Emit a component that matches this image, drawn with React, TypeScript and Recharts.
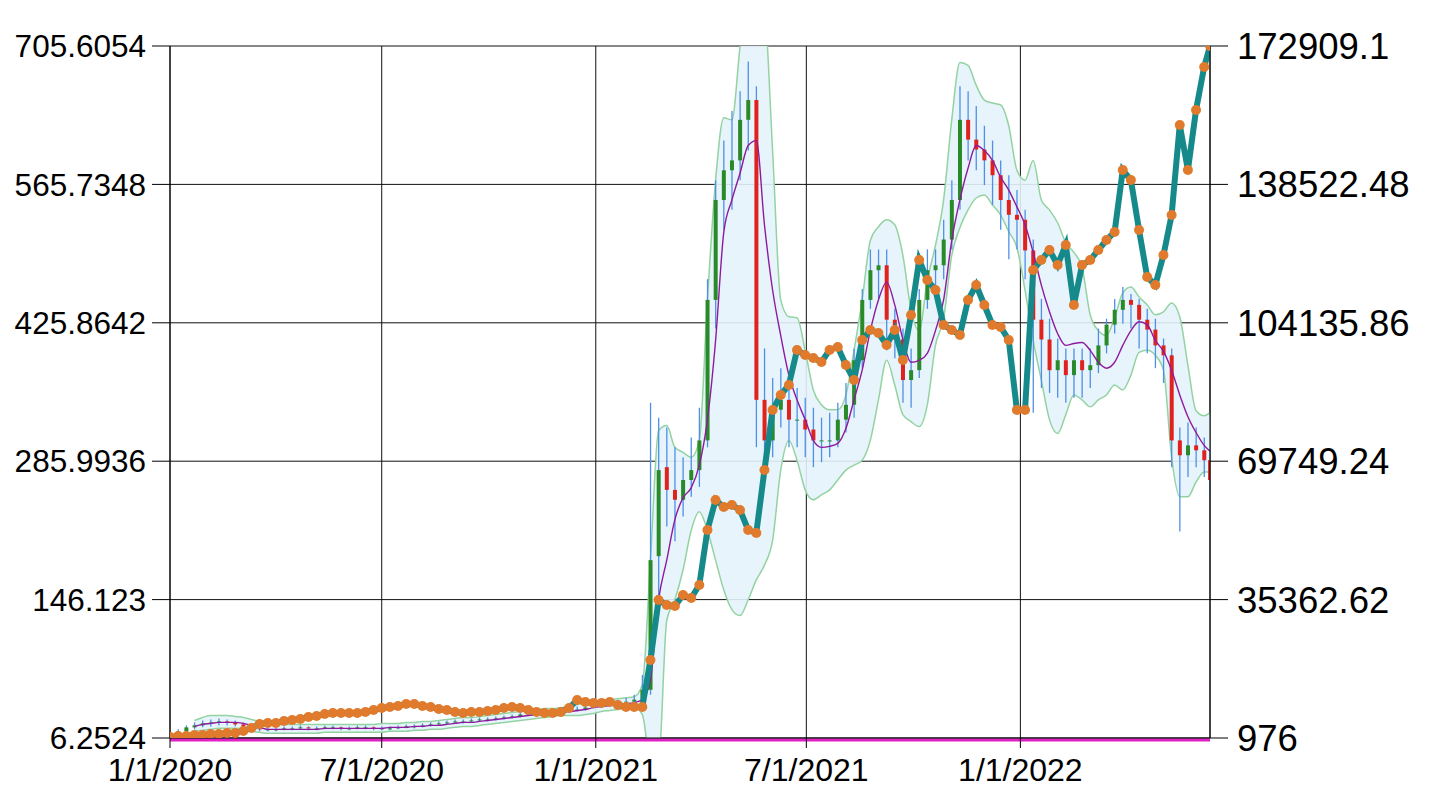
import React from 'react';
import { ComposedChart, Bar, Line, Area, XAxis, YAxis, CartesianGrid, ReferenceLine } from 'recharts';

const START = Date.UTC(2020, 0, 1);
const END = Date.UTC(2022, 5, 13);
const DAY = 86400000;

const xTicks = [Date.UTC(2020, 0, 1), Date.UTC(2020, 6, 1), Date.UTC(2021, 0, 1), Date.UTC(2021, 6, 1), Date.UTC(2022, 0, 1)];
const xTickLabels = ['1/1/2020', '7/1/2020', '1/1/2021', '7/1/2021', '1/1/2022'];
const leftTicks = [6.2524, 146.123, 285.9936, 425.8642, 565.7348, 705.6054];
const leftTickLabels = ['6.2524', '146.123', '285.9936', '425.8642', '565.7348', '705.6054'];
const rightTicks = [976, 35362.62, 69749.24, 104135.86, 138522.48, 172909.1];
const rightTickLabels = ['976', '35362.62', '69749.24', '104135.86', '138522.48', '172909.1'];

// weekly candles: [open, high, low, close] (left axis)
const ohlc: [number, number, number, number][] = [
  [8,12,6,10],[10,15,9,13],[13,19,12,17],[17,22,15,19],[19,24,17,21],[21,25,18,22],[22,26,19,23],[23,25,19,22],[22,24,18,20],[20,22,16,18],
  [18,20,14,16],[16,18,13,15],[15,17,13,15],[15,17,13,15],[15,18,14,16],[16,18,14,16],[16,19,15,17],[17,18,14,16],[16,18,14,16],[16,19,15,17],
  [17,19,15,17],[17,18,14,16],[16,18,14,16],[16,19,15,17],[17,19,15,17],[17,18,14,16],[16,18,14,16],[16,18,14,16],[16,19,15,17],[17,20,16,18],
  [18,20,16,18],[18,21,17,19],[19,22,18,20],[20,23,19,21],[21,24,20,22],[22,25,21,23],[23,25,21,23],[23,26,22,24],[24,27,23,25],[25,27,23,25],
  [25,28,24,26],[26,29,25,27],[27,30,26,28],[28,32,27,30],[30,33,29,31],[31,34,30,32],[32,34,30,32],[32,35,31,33],[33,36,31,33],[33,37,32,34],
  [34,38,33,35],[35,40,34,37],[37,41,36,38],[38,43,37,40],[40,44,38,41],[41,45,39,42],[42,47,40,43],[43,50,41,45],[45,70,43,55],[55,345,50,186],
  [190,330,150,277],[280,320,220,257],[257,300,205,247],[247,290,230,267],[267,310,250,277],[277,340,260,307],[307,470,300,449],[449,570,420,550],[550,610,520,580],[580,640,540,590],
  [590,660,570,631],[631,690,600,651],[651,665,300,348],[348,400,270,307],[307,370,290,338],[338,380,320,348],[348,370,300,328],[328,360,300,328],[328,350,290,318],[318,340,280,307],
  [307,330,285,307],[307,335,290,307],[307,345,300,328],[328,365,315,343],[343,400,330,388],[388,460,380,449],[449,500,440,479],[479,500,450,484],[484,500,400,429],[429,440,390,409],
  [409,420,345,368],[368,400,340,378],[378,460,370,449],[449,500,440,479],[479,500,460,484],[484,530,470,510],[510,570,500,550],[550,665,540,631],[631,660,590,611],[611,645,580,601],
  [601,625,565,590],[590,610,545,575],[575,590,520,550],[550,575,490,535],[535,560,500,530],[530,540,470,499],[499,510,335,429],[429,450,360,409],[409,430,355,378],[378,410,350,388],
  [388,400,345,373],[373,400,350,388],[388,400,350,378],[378,400,360,383],[383,420,375,403],[403,430,395,424],[424,450,415,439],[439,462,425,449],[449,455,420,444],[444,450,400,429],
  [429,440,395,419],[419,430,380,403],[403,410,365,393],[393,400,280,307],[307,320,215,292],[292,325,270,302],[302,320,280,297],[297,310,270,287],[287,295,250,267],
];

// weekly teal line values (right axis)
const tealSeries = [
  1224,1473,1473,1721,1721,1970,1970,2218,2218,2715,
  3461,4454,4703,4703,5200,5448,5697,6194,6442,6939,
  7188,7188,7188,7188,7436,7933,8430,8678,8927,9424,
  9424,8927,8678,8181,7933,7436,7188,7436,7436,7685,
  7933,8430,8678,8430,7933,7436,7188,7188,7436,8430,
  10417,9921,9672,9672,9921,9175,8678,8678,8678,20356,
  35263,34021,33772,36506,35760,38990,52656,60111,58371,58868,
  57626,52656,51911,67563,82471,86198,88682,97379,96136,95391,
  94397,97379,98124,93652,89925,99863,102348,101602,98621,102348,
  94900,106074,119741,114771,112287,103592,102348,101101,109800,113527,
  108559,103592,103095,99863,82471,82471,117257,119741,122224,118497,
  123467,108559,118497,119741,122224,124709,126697,142103,139618,127200,
  115516,113527,120980,130921,153282,142103,157009,167693,172909,
];

// moving average and bands start at the 4th week (left axis)
const maSeries = [
  18,20,21,22,22,22,21,19,17,15,
  15,15,15,15,15,15,16,16,16,16,
  16,16,16,16,17,17,17,18,18,19,
  19,20,21,22,22,23,24,25,26,27,
  28,29,30,31,32,33,33,34,35,37,
  38,39,40,41,42,45,65,146,186,227,
  249,259,282,328,408,517,550,577,605,610,
  525,459,413,373,348,328,307,300,301,304,
  319,348,378,418,449,467,444,409,386,388,
  395,418,449,509,550,582,605,600,590,573,
  560,543,525,497,464,437,415,403,405,406,
  398,386,380,386,403,418,427,424,408,397,
  378,353,331,315,302,296,
];
const upperSeries = [
  24,27,29,29,29,28,27,25,23,21,
  20,20,20,20,20,20,20,20,20,20,
  20,20,20,21,21,21,22,22,23,23,
  24,25,26,27,27,28,29,30,31,32,
  33,34,35,36,36,37,38,40,41,43,
  44,45,46,47,48,60,186,317,322,300,
  295,290,307,449,570,633,631,705,772,792,
  752,600,449,432,431,398,358,343,338,338,
  353,398,449,509,523,530,525,494,439,418,
  469,504,550,631,689,686,666,651,648,646,
  625,580,570,590,550,540,527,507,497,482,
  434,418,413,431,456,462,452,444,434,437,
  446,432,383,337,332,335,
];
const lowerSeries = [
  13,14,15,16,16,16,15,13,12,11,
  11,11,11,11,11,11,12,12,12,12,
  12,12,12,12,13,13,13,14,14,15,
  15,16,17,18,18,19,20,21,22,23,
  24,25,26,27,28,29,29,29,30,31,
  33,34,35,36,37,30,-16,-16,125,146,
  176,216,235,216,186,156,136,130,146,166,
  181,206,277,307,287,257,247,252,257,267,
  277,282,287,307,348,388,363,333,326,321,
  343,403,430,494,522,540,552,555,545,535,
  518,502,459,408,368,328,314,333,353,348,
  341,348,353,363,358,373,396,398,393,378,
  290,250,250,265,275,275,
];

// volume baseline (left axis units, sits just under the bottom frame)
const volumeBaseline = 4.2;

const dates = tealSeries.map((_, i) => (i < 128 ? START + i * 7 * DAY : END));

const rows = ohlc.map((q, i) => ({ t: dates[i], o: q[0], h: q[1], l: q[2], c: q[3], range: [q[2], q[1]], teal: tealSeries[i] }));
const bandRows = maSeries.map((m, j) => ({ t: dates[j + 3], ma: m, band: [lowerSeries[j], upperSeries[j]] }));

const FONT = '"Liberation Sans", Arial, sans-serif';

const Candle = (props: any) => {
  const { x, y, width, height, payload } = props;
  if (!payload || x == null || y == null) return null;
  const { o, h, l, c } = payload;
  const top = Math.min(y, y + height);
  const bot = Math.max(y, y + height);
  const k = h - l === 0 ? 0 : (bot - top) / (h - l);
  const yOf = (v: number) => top + (h - v) * k;
  const cx = x + width / 2;
  const bTop = yOf(Math.max(o, c));
  const bBot = yOf(Math.min(o, c));
  return (
    <g>
      <line x1={cx} x2={cx} y1={top} y2={bot} stroke="#4f8fe8" strokeWidth={1.3} />
      <rect x={cx - 2} y={bTop} width={4} height={Math.max(1, bBot - bTop)} fill={c >= o ? '#2a8a2a' : '#e0221e'} />
    </g>
  );
};

export default function App() {
  return (
    <div style={{ position: 'absolute', left: 0, top: 0, width: 1433, height: 812, background: '#fff' }}>
      <ComposedChart width={1433} height={812} data={rows} margin={{ top: 46, right: 0, bottom: 0, left: 0 }}>
        <CartesianGrid yAxisId="left" stroke="#111" strokeWidth={1} />
        <XAxis
          dataKey="t"
          type="number"
          domain={[START, END]}
          allowDataOverflow
          ticks={xTicks}
          interval={0}
          tickFormatter={(v: number) => xTickLabels[xTicks.indexOf(v)] ?? ''}
          tick={{ fontSize: 32, fill: '#000', fontFamily: FONT }}
          tickSize={10}
          tickMargin={10}
          axisLine={{ stroke: '#000' }}
          tickLine={{ stroke: '#000' }}
          height={74}
        />
        <YAxis
          yAxisId="left"
          type="number"
          domain={[6.2524, 705.6054]}
          allowDataOverflow
          ticks={leftTicks}
          interval={0}
          tickFormatter={(v: number) => leftTickLabels[leftTicks.indexOf(v)] ?? String(v)}
          tick={{ fontSize: 31.5, fill: '#000', fontFamily: FONT }}
          tickSize={18}
          tickMargin={6}
          axisLine={{ stroke: '#000' }}
          tickLine={{ stroke: '#000' }}
          width={170}
        />
        <YAxis
          yAxisId="right"
          orientation="right"
          type="number"
          domain={[976, 172909.1]}
          allowDataOverflow
          ticks={rightTicks}
          interval={0}
          tickFormatter={(v: number) => rightTickLabels[rightTicks.indexOf(v)] ?? String(v)}
          tick={{ fontSize: 36.5, fill: '#000', fontFamily: FONT }}
          tickSize={18}
          tickMargin={9}
          axisLine={{ stroke: '#000' }}
          tickLine={{ stroke: '#000' }}
          width={223}
        />
        <Area
          yAxisId="left"
          data={bandRows}
          dataKey="band"
          type="monotone"
          fill="#e4f3fb"
          fillOpacity={0.9}
          stroke="#93d3a2"
          strokeWidth={1.5}
          isAnimationActive={false}
        />
        <Bar yAxisId="left" dataKey="range" barSize={4} shape={(p: any) => <Candle {...p} />} isAnimationActive={false} />
        <Line yAxisId="left" data={bandRows} dataKey="ma" type="monotone" stroke="#8e1a9e" strokeWidth={1.4} dot={false} isAnimationActive={false} />
        <Line
          yAxisId="right"
          dataKey="teal"
          type="linear"
          stroke="#168a8a"
          strokeWidth={6}
          dot={{ r: 5, fill: '#e07a2c', stroke: 'none' }}
          isAnimationActive={false}
        />
        <ReferenceLine yAxisId="left" y={volumeBaseline} ifOverflow="visible" stroke="#e21fc6" strokeWidth={3} />
      </ComposedChart>
    </div>
  );
}
